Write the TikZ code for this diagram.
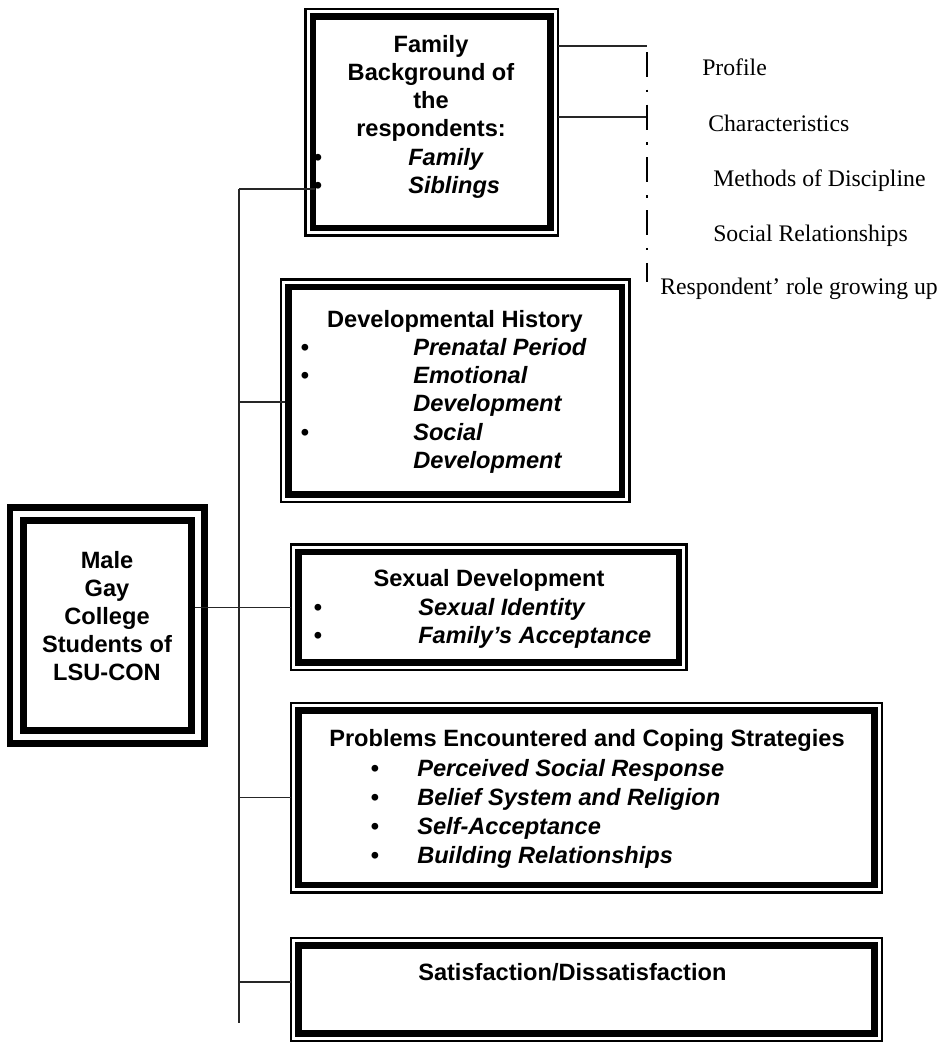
\documentclass[tikz,border=0pt]{standalone}
\usepackage{fontspec}
\setmainfont{Liberation Serif}
\newfontfamily\boxfont{Liberation Sans}
\usetikzlibrary{calc,fit}

\begin{document}
\begin{tikzpicture}[
    x=0.75pt, y=-0.75pt,
    outer frame/.style={draw, line width=1.9pt, inner sep=0pt, outer sep=0pt},
    heavy frame/.style={draw, line width=4.9pt, inner sep=0pt, outer sep=0pt},
    inner frame/.style={line width=5.2pt},
    link/.style={-, line width=1.1pt, black!85},
    guide/.style={-, line width=1.2pt, dash pattern=on 18.75pt off 9.5pt on 1.8pt off 9.5pt},
    heading/.style={font=\boxfont\bfseries\fontsize{17.7pt}{21.2pt}\selectfont, inner sep=0pt, anchor=base},
    entry/.style={font=\boxfont\bfseries\itshape\fontsize{17.7pt}{21.2pt}\selectfont, inner sep=0pt, anchor=base west},
    bullet mark/.style={font=\boxfont\bfseries\fontsize{17.7pt}{21.2pt}\selectfont, inner sep=0pt, anchor=base},
    side label/.style={font=\fontsize{17.8pt}{21.5pt}\selectfont, inner sep=0pt, anchor=base west}
]
\useasboundingbox (0,0) rectangle (946,1043);

% Main box
\node[heavy frame, fit={(10,507.5) (204.5,743.5)}] (mainbox) {};
\draw[line width=5.25pt] ($(mainbox.north west)+(13,13)$) rectangle ($(mainbox.south east)+(-13,-13)$);
\foreach \txt [count=\i from 0] in {Male, Gay, College, Students of, LSU-CON}
    \node[heading] (main\i) at (107,{568.5+28*\i}) {\txt};

% Family background
\node[outer frame, fit={(305.5,9) (558,235.5)}] (topbox) {};
\draw[inner frame] ($(topbox.north west)+(7.5,7.5)$) rectangle ($(topbox.south east)+(-7.5,-7.5)$);
\foreach \txt [count=\i from 0] in {Family, Background of, the, respondents:}
    \node[heading] (fam\i) at (431,{52+28.3*\i}) {\txt};
\node[bullet mark] (famb1) at (318,165.2) {•};
\node[entry] (family) at (408,165.2) {Family};
\node[bullet mark] (famb2) at (318,193.5) {•};
\node[entry] (siblings) at (408,193.5) {Siblings};

% Developmental history
\node[outer frame, fit={(281,279.5) (629.5,502)}] (devbox) {};
\draw[inner frame] ($(devbox.north west)+(7.5,7.5)$) rectangle ($(devbox.south east)+(-7.5,-7.5)$);
\node[heading] (devhead) at (455,327) {Developmental History};
\node[bullet mark] (devb1) at (305,355.3) {•};
\node[entry] (prenatal) at (413,355.3) {Prenatal Period};
\node[bullet mark] (devb2) at (305,383.6) {•};
\node[entry] (emotional) at (413,383.6) {Emotional};
\node[entry] (emotional2) at (413,411.9) {Development};
\node[bullet mark] (devb3) at (305,440.2) {•};
\node[entry] (social) at (413,440.2) {Social};
\node[entry] (social2) at (413,468.5) {Development};

% Sexual development
\node[outer frame, fit={(291,544.5) (686.5,670)}] (sexbox) {};
\draw[inner frame] ($(sexbox.north west)+(7.5,7.5)$) rectangle ($(sexbox.south east)+(-7.5,-7.5)$);
\node[heading] (sexhead) at (489,586.5) {Sexual Development};
\node[bullet mark] (sexb1) at (318,615) {•};
\node[entry] (identity) at (418,615) {Sexual Identity};
\node[bullet mark] (sexb2) at (318,643.5) {•};
\node[entry] (acceptance) at (418,643.5) {Family’s Acceptance};

% Problems and coping
\node[outer frame, fit={(291,703) (882,892.5)}] (probbox) {};
\draw[inner frame] ($(probbox.north west)+(7.5,7.5)$) rectangle ($(probbox.south east)+(-7.5,-7.5)$);
\node[heading, anchor=base west] (probhead) at (329,746.5) {Problems Encountered and Coping Strategies};
\foreach \txt [count=\i from 0] in {Perceived Social Response, Belief System and Religion, Self-Acceptance, Building Relationships} {
    \node[bullet mark] (probb\i) at (375,{776+29*\i}) {•};
    \node[entry] (prob\i) at (417,{776+29*\i}) {\txt};
}

% Satisfaction
\node[outer frame, fit={(291,938) (882,1041)}] (satbox) {};
\draw[inner frame] ($(satbox.north west)+(7.5,7.5)$) rectangle ($(satbox.south east)+(-7.5,-7.5)$);
\node[heading, anchor=base west] (sathead) at (418,980.5) {Satisfaction/Dissatisfaction};

% Trunk and branches
\coordinate (trunktop) at (239,189);
\coordinate (trunkbot) at (239,1023);
\coordinate (devjoin) at (239,402);
\coordinate (satjoin) at (239,982);
\draw[link] (trunktop) -- (trunkbot);
\draw[link] (trunktop) -- ([xshift=6.75pt]trunktop -| topbox.west);
\draw[link] (devjoin) -- ([xshift=3pt]devjoin -| devbox.west);
\draw[link] (trunktop |- probbox.west) -- (probbox.west);
\draw[link] (satjoin) -- (satjoin -| satbox.west);
\draw[link] ([xshift=-7.5pt]mainbox.east |- sexbox.west) -- (sexbox.west);

% Family background details
\coordinate (profilejoin) at (647,46);
\coordinate (charjoin) at (647,117);
\coordinate (guidetop) at (647,52);
\coordinate (guidebot) at (647,282);
\draw[link] (profilejoin -| topbox.east) -- (profilejoin);
\draw[link] (charjoin -| topbox.east) -- (charjoin);
\draw[guide] (guidetop) -- (guidebot);
\node[side label] (profile) at (702,75.5) {Profile};
\node[side label] (traits) at (708,131.5) {Characteristics};
\node[side label] (discipline) at (713,186.5) {Methods of Discipline};
\node[side label] (relations) at (713,241.5) {Social Relationships};
\node[side label] (role) at (660,294) {Respondent’ role growing up};

\end{tikzpicture}
\end{document}
